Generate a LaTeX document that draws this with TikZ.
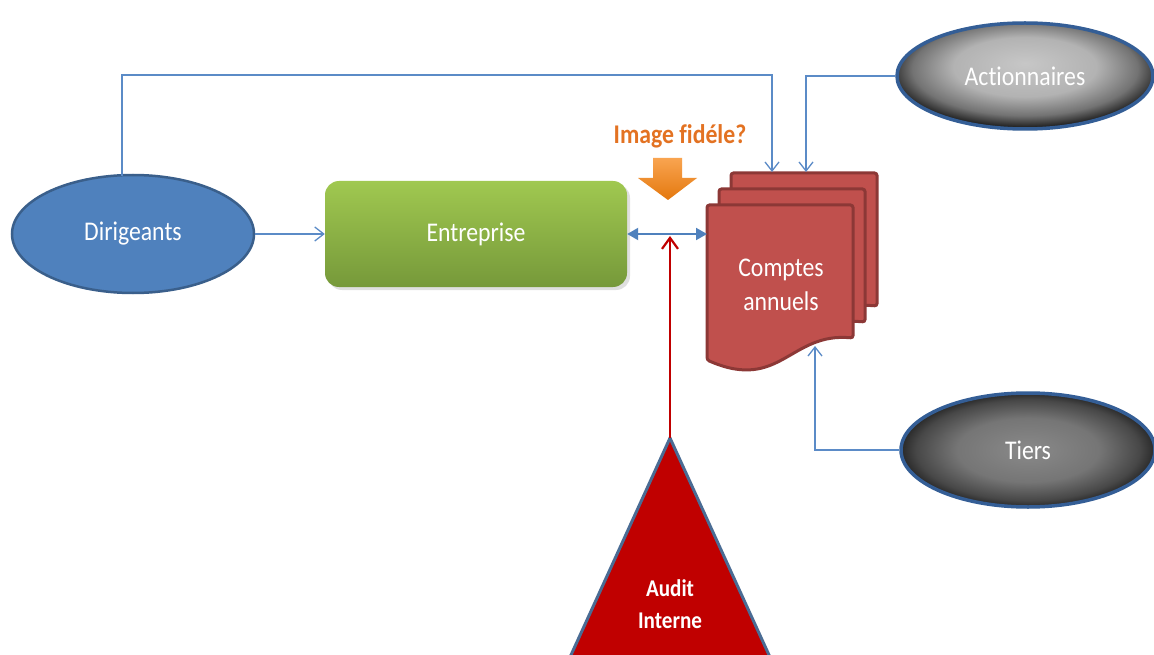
\documentclass[tikz,border=0pt]{standalone}
\usepackage{fontspec}
\setmainfont{Carlito}
\newfontfamily\lblfont[FakeStretch=0.88,Ligatures={NoCommon}]{Carlito}
\usetikzlibrary{arrows.meta,shapes.geometric,shadows}
\definecolor{lineblue}{HTML}{5B8BC7}
\definecolor{dblblue}{HTML}{4F81BD}
\definecolor{dirfill}{HTML}{4F81BD}
\definecolor{dirborder}{HTML}{3A5F8B}
\definecolor{grayborder}{HTML}{345E96}
\definecolor{entTop}{HTML}{A0C850}
\definecolor{entBot}{HTML}{76993A}
\definecolor{docfill}{HTML}{C0504D}
\definecolor{docborder}{HTML}{8C3836}
\definecolor{auditred}{HTML}{C00000}
\definecolor{triborder}{HTML}{4A6C94}
\definecolor{orangeTop}{HTML}{F9A450}
\definecolor{orangeBot}{HTML}{E4780E}
\definecolor{orangeText}{HTML}{E37222}
\pgfdeclareradialshading{actshade}{\pgfpoint{0bp}{6bp}}{color(0bp)=(black!22); color(14bp)=(black!30); color(22bp)=(black!55); color(27bp)=(black!88); color(50bp)=(black!88)}
\pgfdeclareradialshading{tiershade}{\pgfpoint{0bp}{0bp}}{color(0bp)=(black!46); color(14bp)=(black!54); color(22bp)=(black!72); color(27bp)=(black!92); color(50bp)=(black!92)}
\tikzset{
  lbl/.style={text=white, font=\lblfont\fontsize{27}{32}\selectfont, inner sep=0pt},
  ell/.style={ellipse, inner sep=0pt, line width=2.5pt},
  ellgray/.style={ellipse, inner sep=0pt, line width=3.5pt, draw=grayborder, shade},
  entbox/.style={rectangle, rounded corners=14pt, inner sep=0pt,
     minimum width=302pt, minimum height=106pt, top color=entTop, bottom color=entBot,
     drop shadow={shadow xshift=3pt, shadow yshift=-3pt, opacity=0.25}},
  docpage/.style={fill=docfill, draw=docborder, line width=3pt, rounded corners=2.5pt},
  conn/.style={draw=lineblue, line width=1.3pt, -{Straight Barb[length=9pt,width=14pt]}},
  dblarrow/.style={draw=dblblue, line width=2pt,
     {Triangle[length=11pt,width=12pt]}-{Triangle[length=11pt,width=12pt]}},
  redarrow/.style={draw=auditred, line width=2.2pt, -{Straight Barb[length=11pt,width=16pt]}}
}
\begin{document}
\begin{tikzpicture}[x=1pt,y=-1pt]
\useasboundingbox (0,0) rectangle (1154,655);
\fill[white] (0,0) rectangle (1154,655);
\begin{scope}
\clip (0,0) rectangle (1154,655);

% Audit Interne triangle
\draw[fill=auditred, draw=triborder, line width=3pt] (670,438) -- (545,712) -- (795,712) -- cycle;
\node[lbl, font=\lblfont\bfseries\fontsize{24}{32}\selectfont, align=center] (audit) at (670,604) {Audit\\Interne};
\coordinate (apex) at (670,438);

% Ellipses
\node[ell, fill=dirfill, draw=dirborder, minimum width=242pt, minimum height=118pt] (dir) at (133,234) {};
\node[lbl] at (dir) {Dirigeants};
\node[ellgray, shading=actshade, minimum width=256pt, minimum height=106pt] (act) at (1025,76) {};
\node[lbl] at (act) {Actionnaires};
\node[ellgray, shading=tiershade, minimum width=254pt, minimum height=114pt] (tiers) at (1028,450) {};
\node[lbl] at (tiers) {Tiers};

% Entreprise
\node[entbox] (ent) at (476,234) {};
\node[lbl] at (ent) {Entreprise};

% Comptes annuels (stacked documents)
\foreach \dx/\dy in {24/-32, 12/-16, 0/0}{
  \draw[docpage, shift={(\dx,\dy)}] (707,205) -- (853,205) -- (853,338)
     .. controls (790,332) and (780,392) .. (707,360) -- cycle;
}
\node[lbl, align=center, font=\lblfont\fontsize{27}{34}\selectfont] (ca) at (781,285) {Comptes\\annuels};
\coordinate (tipA) at (772,172);
\coordinate (tipB) at (806,172);
\coordinate (tipC) at (815,346);
\coordinate (cornerA) at (772,75);
\coordinate (dtop) at (122,176);
\coordinate (docl) at (707,234);
\coordinate (mid) at (670,236);

% Connectors
\draw[conn] (dir.east) -- (ent.west);
\draw[conn] (dtop) |- (cornerA) -- (tipA);
\draw[conn] (act.west) -| (tipB);
\draw[conn] (tiers.west) -| (tipC);
\draw[dblarrow] (ent.east) -- (docl);
\draw[redarrow] (apex) -- (mid);

% Image fidele
\node[text=orangeText, font=\lblfont\bfseries\fontsize{27}{32}\selectfont, inner sep=0pt] (img) at (680,136) {Image fidéle?};
\shade[top color=orangeTop, bottom color=orangeBot]
  (653,158) -- (682,158) -- (682,178) -- (697,178) -- (668,200) -- (638,178) -- (653,178) -- cycle;
\end{scope}
\end{tikzpicture}
\end{document}
